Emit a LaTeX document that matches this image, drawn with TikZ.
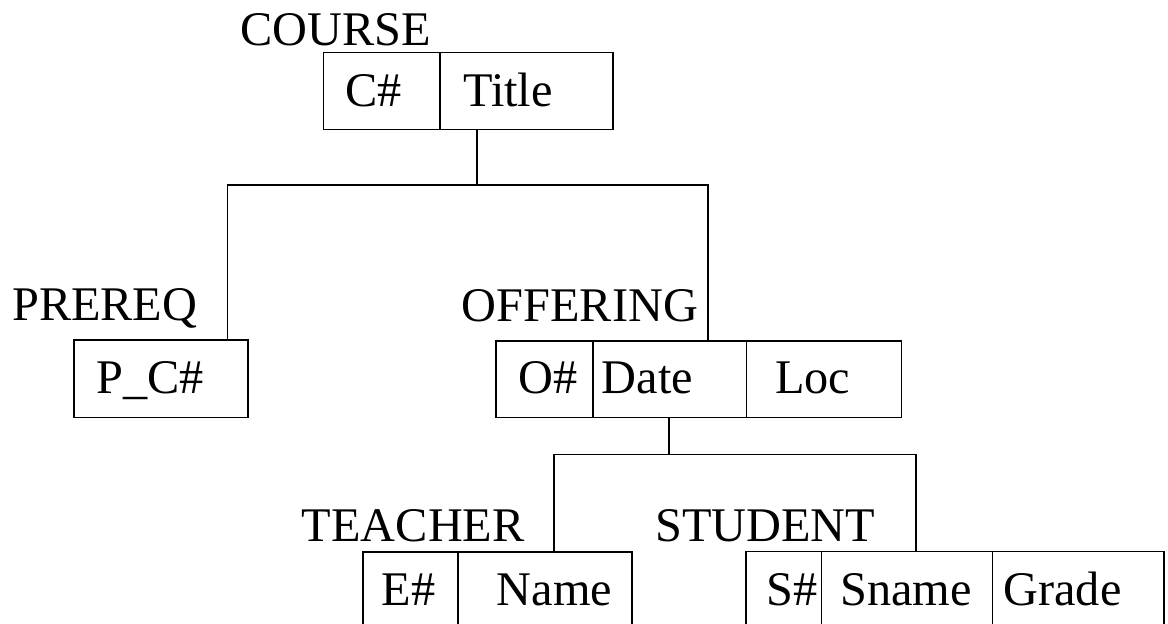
\documentclass[tikz,border=0pt]{standalone}
\usepackage{fontspec}
\setmainfont{Liberation Serif}
\begin{document}
\begin{tikzpicture}[x=1pt,y=-1pt,
  field/.style={draw, line width=1.6pt, inner sep=0pt, anchor=north west},
  lbl/.style={anchor=base west, inner sep=0pt, font=\fontsize{48.3}{52}\selectfont},
  conn/.style={draw, line width=1.6pt}]
\useasboundingbox (0,0) rectangle (1168,624);
% COURSE
\node[lbl] (tcourse) at (240,45) {COURSE};
\node[field, minimum width=116.6pt, minimum height=76.8pt] (c1) at (322.7,51.7) {};
\node[field, minimum width=173pt, minimum height=76.8pt] (c2) at (439.3,51.7) {};
\node[lbl] (tc1) at (345,106) {C\#};
\node[lbl] (tc2) at (463,106) {Title};
% PREREQ
\node[lbl] (tprereq) at (12,320) {PREREQ};
\node[field, minimum width=174pt, minimum height=77.4pt] (p1) at (73.3,339.3) {};
\node[lbl] (tp1) at (96,393.3) {P\_C\#};
% OFFERING
\node[lbl] (toffer) at (461.7,321.7) {OFFERING};
\node[field, minimum width=97pt, minimum height=76.7pt] (o1) at (495.3,340) {};
\node[field, minimum width=153.4pt, minimum height=76.7pt] (o2) at (592.3,340) {};
\node[field, minimum width=155pt, minimum height=76.7pt] (o3) at (745.7,340) {};
\node[lbl] (to1) at (518.3,393.3) {O\#};
\node[lbl] (to2) at (601.7,393.3) {Date};
\node[lbl] (to3) at (775,393.3) {Loc};
% TEACHER
\node[lbl] (tteacher) at (301.7,541) {TEACHER};
\node[field, minimum width=95pt, minimum height=90pt] (t1) at (362.3,551) {};
\node[field, minimum width=173.7pt, minimum height=90pt] (t2) at (457.3,551) {};
\node[lbl] (tt1) at (381.7,605) {E\#};
\node[lbl] (tt2) at (496.7,605) {Name};
% STUDENT
\node[lbl] (tstudent) at (655,541) {STUDENT};
\node[field, minimum width=75.7pt, minimum height=90pt] (s1) at (745,550.7) {};
\node[field, minimum width=171pt, minimum height=90pt] (s2) at (820.7,550.7) {};
\node[field, minimum width=171.3pt, minimum height=90pt] (s3) at (991.7,550.7) {};
\node[lbl] (ts1) at (766,605) {S\#};
\node[lbl] (ts2) at (840,605) {Sname};
\node[lbl] (ts3) at (1003.3,605) {Grade};
% connectors level 1
\coordinate (j1) at (477,185);
\coordinate (jl) at (227.3,185);
\coordinate (jr) at (707.7,185);
\draw[conn] (j1 |- c2.south) -- (j1);
\draw[conn] (jl |- p1.north) -- (jl) -- (jr) -- (jr |- o2.north);
% connectors level 2
\coordinate (k1) at (669,454.3);
\coordinate (kl) at (554,454.3);
\coordinate (kr) at (916,454.3);
\draw[conn] (k1 |- o2.south) -- (k1);
\draw[conn] (kl |- t2.north) -- (kl) -- (kr) -- (kr |- s2.north);
\end{tikzpicture}
\end{document}
